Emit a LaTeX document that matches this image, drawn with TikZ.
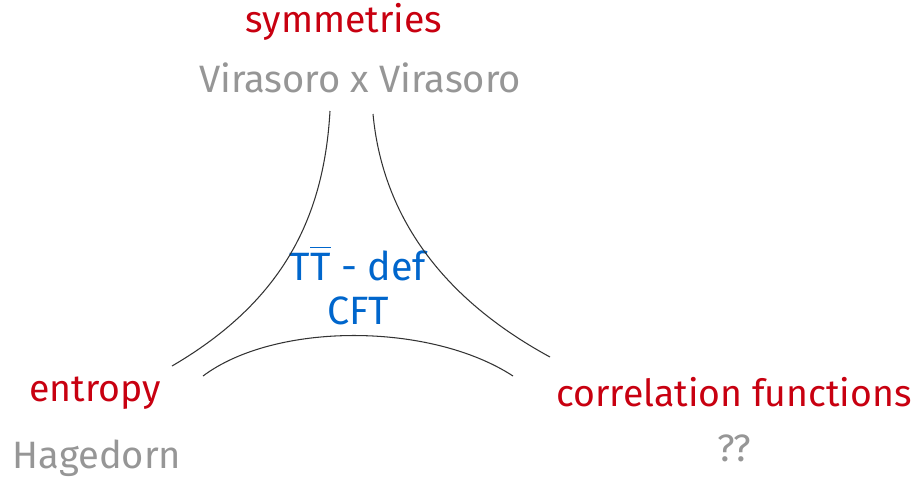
\documentclass[tikz,border=0pt]{standalone}
\usepackage{amsmath}
\usepackage{fontspec}
\setmainfont{Fira Sans}
\usepackage{xcolor}
\usetikzlibrary{positioning,calc}
\definecolor{topicred}{RGB}{200,0,16}
\definecolor{notegray}{RGB}{150,150,150}
\definecolor{theoryblue}{RGB}{0,102,204}
\tikzset{
  topic/.style={text=topicred, font=\fontsize{21.3}{26}\selectfont, inner sep=0pt},
  detail/.style={text=notegray, font=\fontsize{21.7}{26}\selectfont, inner sep=0pt},
  arcline/.style={black!80, line width=0.6pt}
}

\begin{document}
\begin{tikzpicture}[x=0.02cm, y=-0.02cm,
    theory/.style={text=theoryblue, font=\fontsize{22.5}{26}\selectfont,
                   align=center, inner sep=0pt}
  ]
  \useasboundingbox (0,0) rectangle (915,478);

  % corners of the triangle
  \node[topic]  (sym)  at (344,22)  {symmetries};
  \node[detail] (vir)  at (360,78)  {Virasoro x Virasoro};
  \node[topic]  (ent)  at (95,393)  {entropy};
  \node[detail] (hag)  at (97,458)  {Hagedorn};
  \node[topic]  (corr) at (734,392) {correlation functions};
  \node[detail] (qq)   at (734,448) {??};

  % centre
  \node[theory] (ttb) at (358,285) {T$\overline{\text{T}}$ - def\\[-1pt]CFT};

  % curved sides
  \coordinate (lt) at (330,111); \coordinate (lb) at (172,366);
  \coordinate (rt) at (373,114); \coordinate (rb) at (550,357);
  \coordinate (bl) at (203,376); \coordinate (br) at (513,376);
  \draw[arcline] (lt) .. controls (324,215) and (285,300) .. (lb);
  \draw[arcline] (rt) .. controls (382,210) and (436,295) .. (rb);
  \draw[arcline] (bl) .. controls (275,322) and (430,322) .. (br);
\end{tikzpicture}
\end{document}
